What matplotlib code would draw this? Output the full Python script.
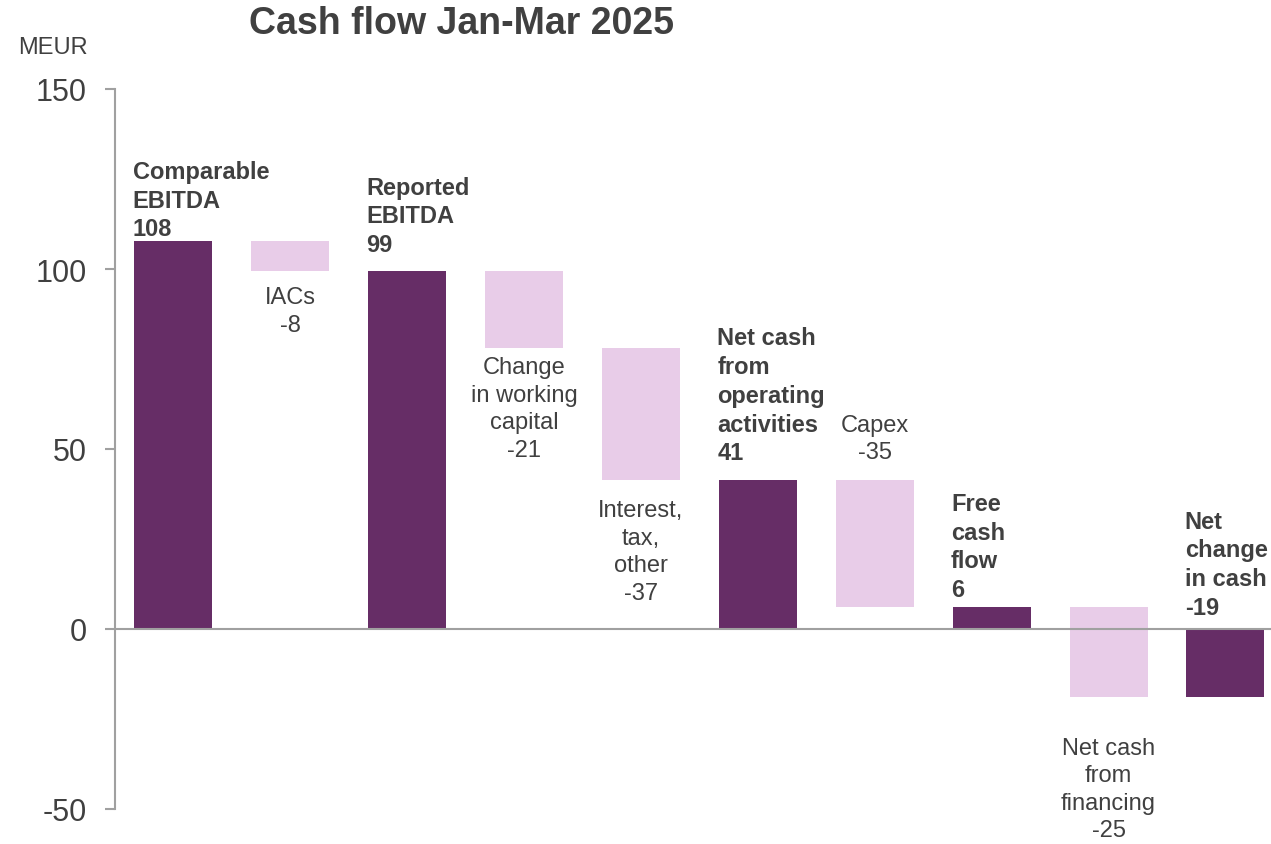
import matplotlib
matplotlib.use("Agg")
import matplotlib.pyplot as plt

plt.rcParams['font.family'] = ['Liberation Sans', 'DejaVu Sans']

categories = ["Comparable\nEBITDA", "IACs", "Reported\nEBITDA",
              "Change\nin working\ncapital", "Interest,\ntax,\nother",
              "Net cash\nfrom\noperating\nactivities", "Capex",
              "Free\ncash\nflow", "Net cash\nfrom\nfinancing",
              "Net\nchange\nin cash"]
values = [107.7, -8.3, 99.4, -21.4, -36.7, 41.3, -35.2, 6.1, -25.0, -18.9]
is_total = [True, False, True, False, False, True, False, True, False, True]
yticks = [-50, 0, 50, 100, 150]

# label placement style (pixels offset from the bar edge)
label_above = [True, False, True, False, False, True, True, True, False, True]
label_gap = [1, 15, 15, 8, 19, 16, 17, 6, 40, 10]

DARK = "#662D66"
LIGHT = "#E8CCE8"
TXT = "#404040"
GRID = "#A0A0A0"

fig = plt.figure(figsize=(12.71, 8.45), dpi=100)
ax = fig.add_axes([115/1271, 35/845, 1 - 115/1271, 720/845])

bw = 0.667
level = 0.0
for i, (v, tot) in enumerate(zip(values, is_total)):
    if tot:
        bottom, height = 0.0, v
        level = v
        color = DARK
    else:
        bottom, height = level, v
        level = level + v
        color = LIGHT
    ax.bar(i, height, bottom=bottom, width=bw, color=color, linewidth=0)
    lo, hi = min(bottom, bottom + height), max(bottom, bottom + height)
    text = f"{categories[i]}\n{round(v):d}"
    if tot:
        x = i - bw / 2 - 0.015
        ha = "left"
        weight = "bold"
    else:
        x = i
        ha = "center"
        weight = "normal"
    if label_above[i]:
        ax.annotate(text, (x, max(hi, 0)), xytext=(0, label_gap[i]),
                    textcoords="offset pixels", ha=ha, va="bottom",
                    fontsize=17, color=TXT, fontweight=weight, linespacing=1.32)
    else:
        ax.annotate(text, (x, lo), xytext=(0, -label_gap[i]),
                    textcoords="offset pixels", ha=ha, va="top",
                    fontsize=17, color=TXT, fontweight=weight, linespacing=1.32)

ax.axhline(0, color=GRID, linewidth=1.5, zorder=3)
ax.set_xlim(-0.5, 9.39)
ax.set_ylim(-50, 150)
ax.set_yticks(yticks)
ax.set_yticklabels([str(t) for t in yticks])
ax.set_xticks([])
for s in ["top", "right", "bottom"]:
    ax.spines[s].set_visible(False)
ax.spines["left"].set_color(GRID)
ax.spines["left"].set_linewidth(1.5)
ax.tick_params(axis="y", length=7.2, width=1.5, color=GRID, labelsize=22,
               labelcolor=TXT, pad=13)

fig.text(53/1271, 1 - 48/845, "MEUR", fontsize=17, color=TXT,
         ha="center", va="center")
fig.text(461/1271, 1 - 24/845, "Cash flow Jan-Mar 2025", fontsize=27,
         fontweight="bold", color=TXT, ha="center", va="center")

fig.savefig("out.png", dpi=100)
